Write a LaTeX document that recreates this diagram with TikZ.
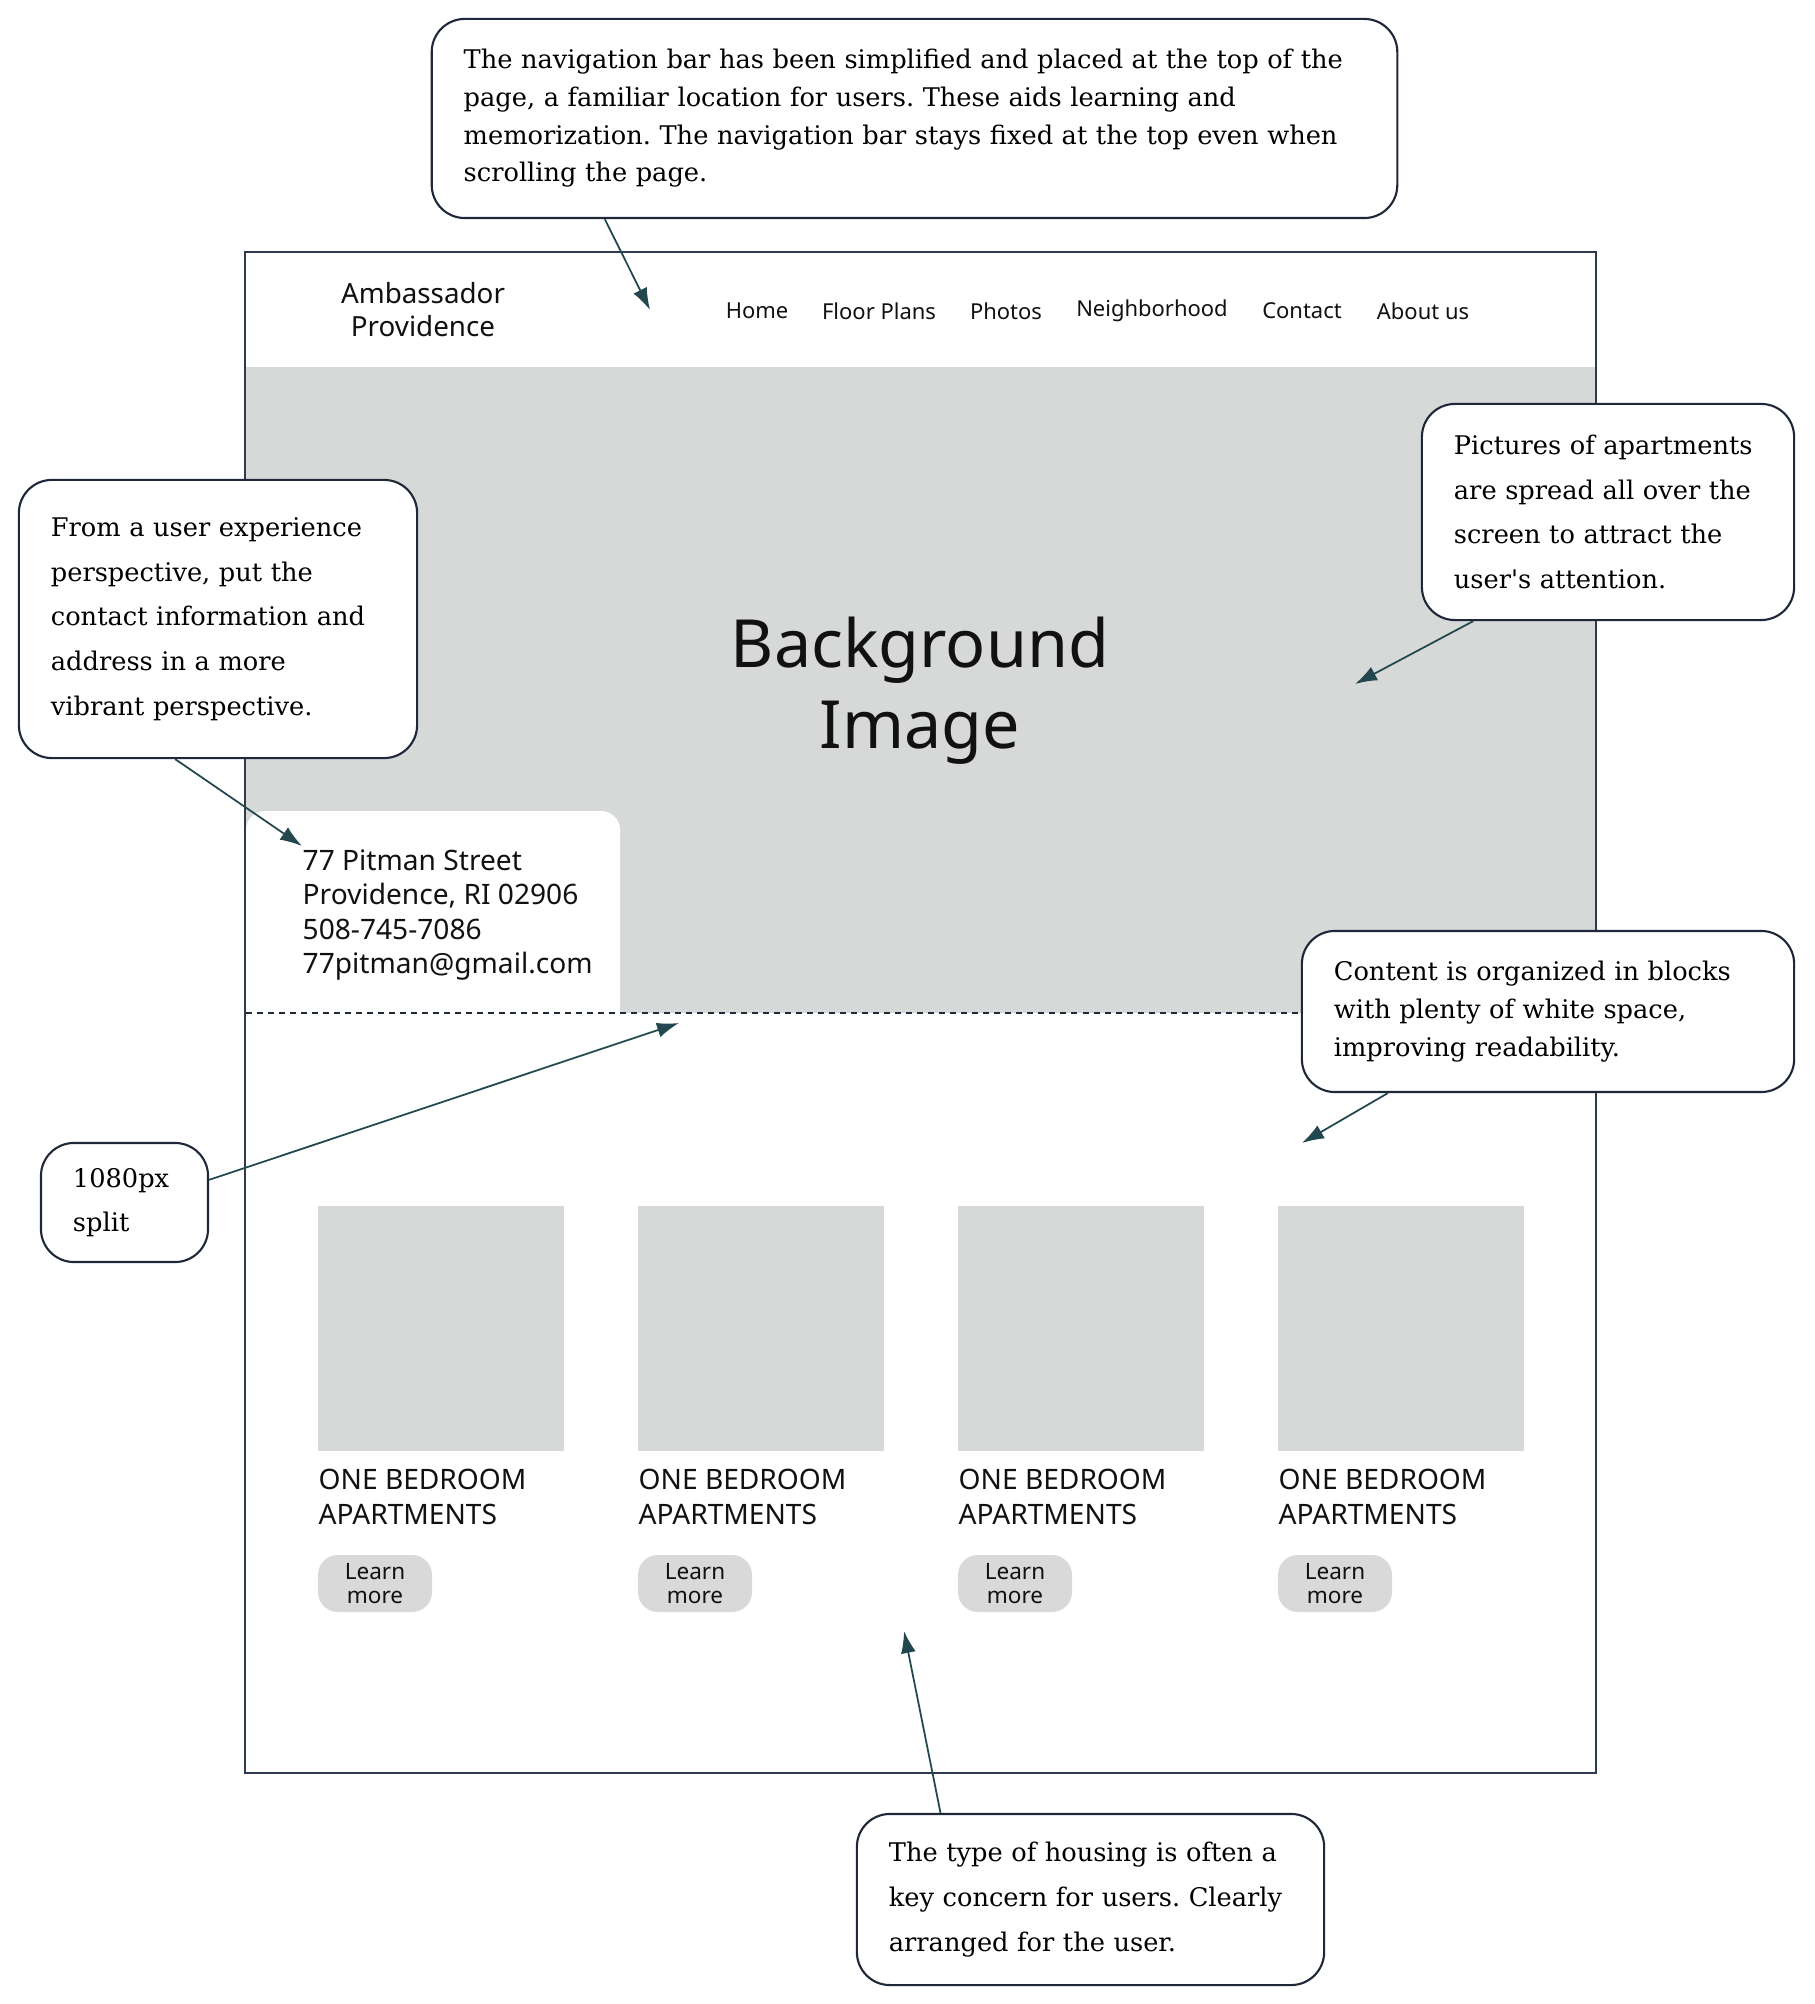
\documentclass[tikz,border=0pt]{standalone}
\usepackage{fontspec}
\setmainfont{DejaVu Serif}
\newfontfamily\uifont{Noto Sans}
\usetikzlibrary{arrows.meta}
\frenchspacing

\definecolor{framecol}{HTML}{2E3A4F}
\definecolor{notecol}{HTML}{1F2838}
\definecolor{arrowcol}{HTML}{22474E}
\definecolor{herogray}{HTML}{D7D8D8}
\definecolor{cardgray}{HTML}{D6D7D7}
\definecolor{btngray}{HTML}{D9D9D9}
\definecolor{inkcol}{HTML}{111111}

\tikzset{
  note/.style={draw=notecol, line width=0.6pt, fill=white, rounded corners=0.33cm,
    inner xsep=0.32cm, inner ysep=0pt, align=left, font=\fontsize{7.3}{10.7}\selectfont},
  loose/.style={font=\fontsize{7.3}{12.7}\selectfont},
  pointer/.style={draw=arrowcol, line width=0.5pt, -{Latex[length=0.22cm,width=0.15cm]}},
  ui/.style={text=inkcol, inner sep=0pt, font=\uifont\fontsize{6.25}{8}\selectfont},
  card/.style={fill=cardgray, minimum width=2.46cm, minimum height=2.45cm, inner sep=0pt},
  btn/.style={ui, fill=btngray, rounded corners=0.2cm, minimum width=1.14cm, minimum height=0.57cm,
    align=center, font=\uifont\fontsize{6.4}{6.6}\selectfont}
}

\begin{document}
\begin{tikzpicture}[x=0.01cm, y=-0.01cm]
  \fill[white] (0,0) rectangle (1814,2004);
  \useasboundingbox (0,0) rectangle (1814,2004);

  % page mock-up
  \fill[herogray] (245,367) rectangle (1596,1013);
  \fill[white, rounded corners=0.19cm] (246,1013) -- (246,811) -- (620,811) -- (620,1013);
  \draw[framecol!70!black, line width=0.4pt, dash pattern=on 0.06cm off 0.05cm] (246,1013) -- (1596,1013);
  \draw[framecol, line width=0.55pt] (245,252) rectangle (1596,1773);

  \node[ui, align=center, font=\uifont\fontsize{7.9}{9.4}\selectfont] (brand) at (423,310) {Ambassador\\Providence};
  \foreach \item/\x [count=\i] in {Home/757, Floor Plans/879, Photos/1006, Neighborhood/1152, Contact/1302, About us/1423}
    \node[ui] (nav\i) at (\x,311) {\item};

  \node[ui, align=center, font=\uifont\fontsize{18.9}{23}\selectfont] (bgtitle) at (920,691) {Background\\Image};
  \node[ui, anchor=west, align=left, font=\uifont\fontsize{8}{9.7}\selectfont] (address) at (302,915)
    {77 Pitman Street\\Providence, RI 02906\\508-745-7086\\77pitman@gmail.com};

  \foreach \i in {0,...,3} {
    \node[card] (card\i) at ({441+320*\i},1328.5) {};
    \node[ui, anchor=west, align=left, font=\uifont\fontsize{8}{10}\selectfont] (kind\i) at ({318+320*\i},1497) {ONE BEDROOM\\APARTMENTS};
    \node[btn] (btn\i) at ({375+320*\i},1583.5) {Learn\\more};
  }

  % callouts
  \node[note, text width=9.01cm, minimum height=1.99cm] (navnote) at (914.5,118.5)
    {The navigation bar has been simplified and placed at the top of the\\
     page, a familiar location for users. These aids learning and\\
     memorization. The navigation bar stays fixed at the top even when\\
     scrolling the page.};
  \node[note, loose, text width=3.08cm, minimum height=2.16cm] (picnote) at (1608,512)
    {Pictures of apartments\\are spread all over the\\screen to attract the\\user\textquotesingle s attention.};
  \node[note, loose, text width=3.34cm, minimum height=2.78cm] (usernote) at (218,619)
    {From a user experience\\perspective, put the\\contact information and\\address in a more\\vibrant perspective.};
  \node[note, text width=4.28cm, minimum height=1.61cm] (blocknote) at (1548,1011.5)
    {Content is organized in blocks\\with plenty of white space,\\improving readability.};
  \node[note, loose, text width=1.03cm, minimum height=1.19cm] (splitnote) at (124.5,1202.5)
    {1080px\\split};
  \node[note, loose, text width=4.03cm, minimum height=1.71cm] (typenote) at (1090.5,1899.5)
    {The type of housing is often a\\key concern for users. Clearly\\arranged for the user.};

  \coordinate (navtip) at (650,310);
  \coordinate (pictip) at (1355,684);
  \coordinate (usertip) at (302,846);
  \coordinate (blocktip) at (1302,1143);
  \coordinate (splittip) at (679,1023);
  \coordinate (typetip) at (904,1631);

  \draw[pointer] (navnote.198) -- (navtip);
  \draw[pointer] (picnote.219) -- (pictip);
  \draw[pointer] (usernote.253) -- (usertip);
  \draw[pointer] (blocknote.207) -- (blocktip);
  \draw[pointer] (splitnote.15) -- (splittip);
  \draw[pointer] (typenote.150) -- (typetip);
\end{tikzpicture}
\end{document}
